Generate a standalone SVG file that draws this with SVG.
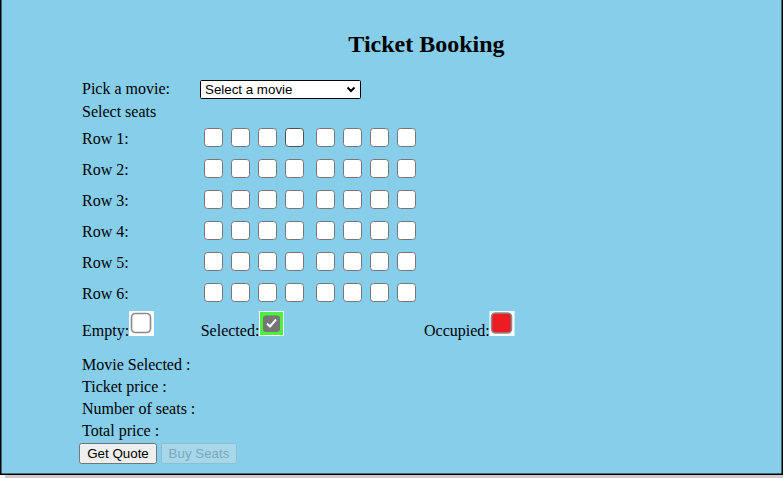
<svg xmlns="http://www.w3.org/2000/svg" width="783" height="478" viewBox="0 0 783 478">
<style>
.t{font-family:"Liberation Serif","Times New Roman",serif;font-size:16px;fill:#000}
.h{font-family:"Liberation Serif","Times New Roman",serif;font-size:24px;font-weight:bold;fill:#000}
.s{font-family:"Liberation Sans",Arial,sans-serif;font-size:13.33px;fill:#000}
.sd{font-family:"Liberation Sans",Arial,sans-serif;font-size:13.33px;fill:#80a6b9}
.cb{fill:#fff;stroke:#767676;stroke-width:1}
.lg{fill:#fff}
</style>
<defs>
<rect id="seat" class="cb" x="0.5" y="0.5" width="18" height="18" rx="3"/>
</defs>
<rect x="5" y="475" width="778" height="3" fill="#cccccc"/>
<rect x="0" y="0" width="783" height="475" fill="#87ceeb"/>
<g id="frame" stroke="#000" stroke-width="1.5" fill="none">
<line x1="0.75" y1="0" x2="0.75" y2="474.25"/>
<line x1="782.25" y1="0" x2="782.25" y2="474.25"/>
<line x1="0" y1="474.25" x2="783" y2="474.25"/>
</g>
<g id="title"><text class="h" x="426.5" y="52" text-anchor="middle">Ticket Booking</text></g>
<g id="movie-picker">
<text class="t" x="82" y="94">Pick a movie:</text>
<rect x="200.5" y="80.5" width="160" height="18" fill="#fff" stroke="#000" stroke-width="1" rx="1"/>
<text class="s" x="205" y="94">Select a movie</text>
<path d="M347.5,87.5 L351,91 L354.5,87.5" fill="none" stroke="#000" stroke-width="2"/>
</g>
<text class="t" x="82" y="117">Select seats</text>
<g id="rows">
<text class="t" x="82" y="144">Row 1:</text>
<text class="t" x="82" y="175">Row 2:</text>
<text class="t" x="82" y="206">Row 3:</text>
<text class="t" x="82" y="237">Row 4:</text>
<text class="t" x="82" y="268">Row 5:</text>
<text class="t" x="82" y="299">Row 6:</text>
</g>
<g id="seats">
<g id="row1" transform="translate(204,128)">
<use href="#seat" x="0"/><use href="#seat" x="27"/><use href="#seat" x="54"/>
<rect x="81.5" y="0.5" width="18" height="18" rx="3" fill="#fff" stroke="#4f4f4f"/>
<use href="#seat" x="112"/><use href="#seat" x="139"/><use href="#seat" x="166"/><use href="#seat" x="193"/>
</g>
<g id="row2" transform="translate(204,159)">
<use href="#seat" x="0"/><use href="#seat" x="27"/><use href="#seat" x="54"/><use href="#seat" x="81"/>
<use href="#seat" x="112"/><use href="#seat" x="139"/><use href="#seat" x="166"/><use href="#seat" x="193"/>
</g>
<g id="row3" transform="translate(204,190)">
<use href="#seat" x="0"/><use href="#seat" x="27"/><use href="#seat" x="54"/><use href="#seat" x="81"/>
<use href="#seat" x="112"/><use href="#seat" x="139"/><use href="#seat" x="166"/><use href="#seat" x="193"/>
</g>
<g id="row4" transform="translate(204,221)">
<use href="#seat" x="0"/><use href="#seat" x="27"/><use href="#seat" x="54"/><use href="#seat" x="81"/>
<use href="#seat" x="112"/><use href="#seat" x="139"/><use href="#seat" x="166"/><use href="#seat" x="193"/>
</g>
<g id="row5" transform="translate(204,252)">
<use href="#seat" x="0"/><use href="#seat" x="27"/><use href="#seat" x="54"/><use href="#seat" x="81"/>
<use href="#seat" x="112"/><use href="#seat" x="139"/><use href="#seat" x="166"/><use href="#seat" x="193"/>
</g>
<g id="row6" transform="translate(204,283)">
<use href="#seat" x="0"/><use href="#seat" x="27"/><use href="#seat" x="54"/><use href="#seat" x="81"/>
<use href="#seat" x="112"/><use href="#seat" x="139"/><use href="#seat" x="166"/><use href="#seat" x="193"/>
</g>
</g>
<g id="legend">
<g id="legend-empty">
<text class="t" x="82" y="336">Empty:</text>
<rect class="lg" x="129" y="311" width="25" height="25"/>
<rect x="131.5" y="313.5" width="19" height="19" rx="4" fill="#fff" stroke="#8a8a8a" stroke-width="1.6"/>
</g>
<g id="legend-selected">
<text class="t" x="200.7" y="336">Selected:</text>
<rect class="lg" x="259" y="311" width="25" height="25"/>
<rect x="260" y="312" width="23" height="23" fill="#4def3e"/>
<rect x="263" y="315.5" width="17" height="16.5" rx="3" fill="#767676"/>
<path d="M267,323.5 L270,326.5 L276,319.5" fill="none" stroke="#fff" stroke-width="2"/>
</g>
<g id="legend-occupied">
<text class="t" x="424" y="336">Occupied:</text>
<rect class="lg" x="489.5" y="311" width="25" height="25"/>
<rect x="491.5" y="313" width="20" height="20" rx="4" fill="#ec1c24" stroke="#8a8a8a" stroke-width="1.6"/>
</g>
</g>
<g id="summary">
<text class="t" x="82" y="369.5">Movie Selected :</text>
<text class="t" x="82" y="391.5">Ticket price :</text>
<text class="t" x="82" y="413.5">Number of seats :</text>
<text class="t" x="82" y="435.5">Total price :</text>
</g>
<g id="btn-quote">
<rect x="79.5" y="443.5" width="77" height="20" rx="2" fill="#efefef" stroke="#767676"/>
<text class="s" x="118" y="458" text-anchor="middle">Get Quote</text>
</g>
<g id="btn-buy">
<rect x="161.5" y="443.5" width="75" height="20" rx="2" fill="#a6d8eb" stroke="#8fbdd0"/>
<text class="sd" x="199" y="458" text-anchor="middle">Buy Seats</text>
</g>
</svg>
